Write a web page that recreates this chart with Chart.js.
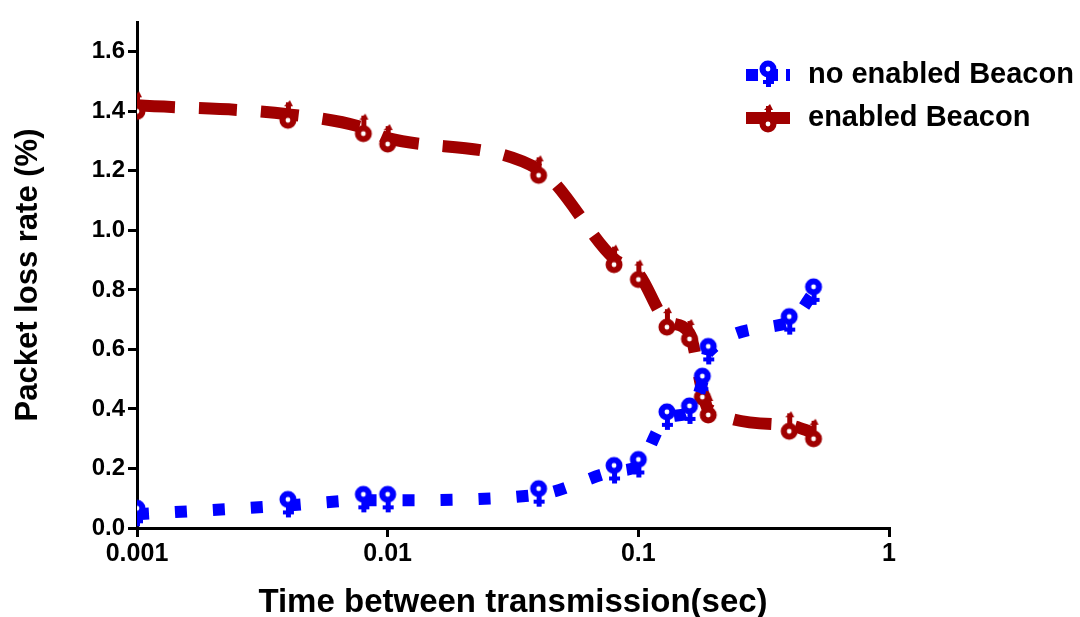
<!DOCTYPE html>
<html>
<head>
<meta charset="utf-8">
<script src="https://cdn.jsdelivr.net/npm/chart.js@4/dist/chart.umd.min.js"></script>
<style>
  html, body { margin: 0; padding: 0; background: #fff; }
  #wrap { width: 1080px; height: 617px; }
</style>
</head>
<body>
<div id="wrap"><canvas id="chart"></canvas></div>
<script>
// data
const times = [0.001, 0.004, 0.008, 0.01, 0.04, 0.08, 0.1, 0.13, 0.16, 0.18, 0.19, 0.4, 0.5];
const noBeacon = [0.046, 0.076, 0.093, 0.093, 0.112, 0.19, 0.21, 0.37, 0.39, 0.49, 0.59, 0.69, 0.79];
const withBeacon = [1.42, 1.39, 1.345, 1.31, 1.205, 0.905, 0.855, 0.695, 0.655, 0.46, 0.40, 0.345, 0.32];
const seriesNames = ['no enabled Beacon', 'enabled Beacon'];
const xTicks = [0.001, 0.01, 0.1, 1];
const xTickLabels = ['0.001', '0.01', '0.1', '1'];

const BLUE = '#0000ff';
const RED = '#a00000';
const FONT = '"Liberation Sans", Arial, sans-serif';

// marker: ring with a small hole and a little tail (blue tail down, red tail up)
function makeMarker(color, tailUp) {
  const c = document.createElement('canvas');
  c.width = 22; c.height = 32;
  const g = c.getContext('2d');
  g.fillStyle = color;
  const cy = tailUp ? 22 : 10;
  if (tailUp) {
    g.fillRect(9, 4, 5, 12);
    g.beginPath(); g.moveTo(7, 8); g.lineTo(13, 2); g.lineTo(16, 8); g.fill();
  } else {
    g.fillRect(9, 15, 5, 13);
    g.fillRect(6, 21, 11, 4);
  }
  g.beginPath(); g.arc(11, cy, 8.5, 0, Math.PI * 2); g.fill();
  g.fillStyle = '#fff';
  g.beginPath(); g.arc(11, cy, 2.4, 0, Math.PI * 2); g.fill();
  return c;
}
const blueMark = makeMarker(BLUE, false);
const redMark = makeMarker(RED, true);

const styles = [
  { color: BLUE, dash: [12, 26], mark: blueMark },
  { color: RED, dash: [38, 24], mark: redMark }
];

// legend drawn in the upper right of the plot
const legendPlugin = {
  id: 'sideLegend',
  afterDraw(chart) {
    const ctx = chart.ctx;
    const x0 = 746, x1 = 790, tx = 808;
    const rows = [75, 118];
    ctx.save();
    seriesNames.forEach((name, i) => {
      const s = styles[i];
      const y = rows[i];
      ctx.strokeStyle = s.color;
      ctx.lineWidth = 12;
      ctx.lineCap = 'butt';
      ctx.setLineDash(i === 0 ? [12, 8] : []);
      ctx.beginPath(); ctx.moveTo(x0, y); ctx.lineTo(x1, y); ctx.stroke();
      ctx.setLineDash([]);
      ctx.drawImage(s.mark, (x0 + x1) / 2 - 11, y - 16);
      ctx.fillStyle = '#000';
      ctx.font = 'bold 29px ' + FONT;
      ctx.textBaseline = 'middle';
      ctx.fillText(name, tx, y);
    });
    ctx.restore();
  }
};

const datasets = [noBeacon, withBeacon].map((vals, i) => ({
  label: seriesNames[i],
  data: times.map((t, k) => ({ x: t, y: vals[k] })),
  borderColor: styles[i].color,
  backgroundColor: styles[i].color,
  borderWidth: 12,
  borderDash: styles[i].dash,
  borderCapStyle: 'butt',
  cubicInterpolationMode: 'monotone',
  pointStyle: styles[i].mark,
  pointRadius: 10
}));

new Chart(document.getElementById('chart'), {
  type: 'line',
  data: { datasets },
  plugins: [legendPlugin],
  options: {
    responsive: true,
    maintainAspectRatio: false,
    animation: false,
    layout: { padding: { left: 0, right: 191, top: 15, bottom: 0 } },
    plugins: { legend: { display: false }, tooltip: { enabled: false } },
    scales: {
      x: {
        type: 'logarithmic',
        min: 0.001,
        max: 1,
        afterBuildTicks: s => { s.ticks = xTicks.map(v => ({ value: v })); },
        afterFit: s => { s.height = 89; },
        border: { color: '#000', width: 3 },
        grid: { drawOnChartArea: false, color: '#000', lineWidth: 3, tickLength: 9 },
        ticks: {
          color: '#000',
          font: { family: FONT, size: 25, weight: 'bold' },
          padding: 2,
          maxRotation: 0,
          autoSkip: false,
          callback: v => xTickLabels[xTicks.indexOf(v)] ?? ''
        },
        title: {
          display: true,
          text: 'Time between transmission(sec)',
          color: '#000',
          font: { family: FONT, size: 33, weight: 'bold', lineHeight: 0.85 },
          padding: { top: 4, bottom: 0 }
        }
      },
      y: {
        min: 0,
        max: 1.7,
        afterBuildTicks: s => { s.ticks = s.ticks.filter(t => t.value <= 1.6001); },
        afterFit: s => { s.width = 137; },
        border: { color: '#000', width: 3 },
        grid: { drawOnChartArea: false, color: '#000', lineWidth: 3, tickLength: 9 },
        ticks: {
          stepSize: 0.2,
          color: '#000',
          font: { family: FONT, size: 24, weight: 'bold' },
          padding: 3,
          callback: v => Number(v).toFixed(1)
        },
        title: {
          display: true,
          text: 'Packet loss rate (%)',
          color: '#000',
          font: { family: FONT, size: 31, weight: 'bold' },
          padding: { top: 10, bottom: 4 }
        }
      }
    }
  }
});
</script>
</body>
</html>
